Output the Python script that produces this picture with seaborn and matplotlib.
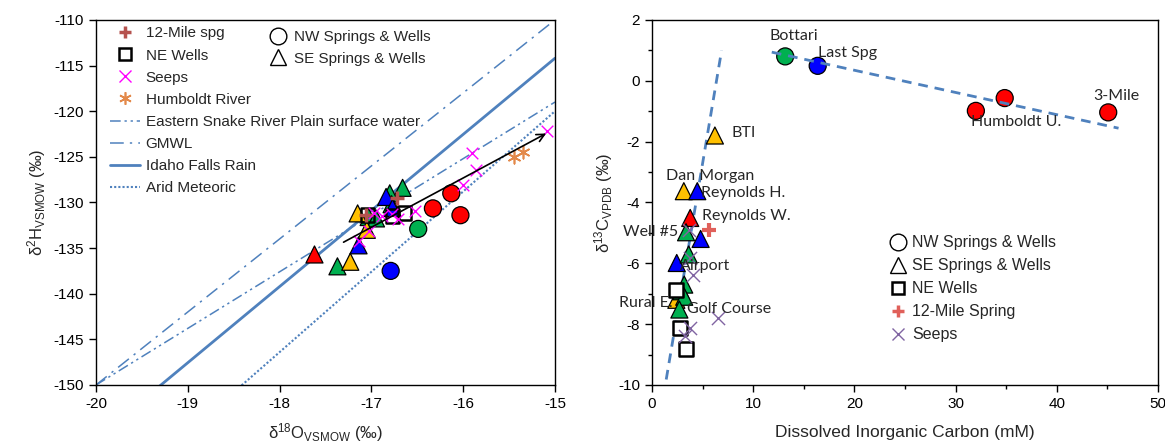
import numpy as np
import pandas as pd
import seaborn as sns
import matplotlib.pyplot as plt
from matplotlib.lines import Line2D

sns.set_theme(style="white")
plt.rcParams['font.family'] = ['Liberation Sans', 'DejaVu Sans']
plt.rcParams['mathtext.fontset'] = 'custom'
plt.rcParams['mathtext.rm'] = 'Liberation Sans'
plt.rcParams['mathtext.default'] = 'regular'
plt.rcParams['axes.unicode_minus'] = False

# ---------------- colours ----------------
RED, GREEN, BLUE, GOLD = "#ff0000", "#00b050", "#0000ff", "#ffc000"
LINE_BLUE = "#4f81bd"

# ---------------- panel A: water isotopes ----------------
nw_color = [RED, RED, RED, GREEN, BLUE]
nw_d18o = [-16.33, -16.13, -16.03, -16.49, -16.79]
nw_d2h = [-130.65, -129.0, -131.4, -132.9, -137.5]

se_color = [RED, GREEN, GREEN, GREEN, GREEN, GREEN, GREEN, BLUE, BLUE, BLUE, GOLD, GOLD, GOLD]
se_d18o = [-17.62, -17.37, -16.66, -16.80, -16.78, -17.03, -16.95, -16.84, -16.77, -17.14, -17.15, -17.23, -17.05]
se_d2h = [-135.7, -137.0, -128.4, -129.0, -130.2, -131.6, -131.75, -129.4, -130.6, -134.7, -131.2, -136.5, -133.0]

ne_d18o = [-17.04, -16.77, -16.64]
ne_d2h = [-131.4, -131.5, -131.15]

mile12_d18o = [-16.72, -17.06]
mile12_d2h = [-129.55, -131.4]

seep_d18o = [-15.09, -15.90, -15.86, -16.0, -16.52, -16.71, -16.89, -16.97, -17.03, -17.14, -16.78]
seep_d2h = [-122.15, -124.6, -126.5, -128.1, -130.9, -131.8, -131.5, -131.2, -133.1, -134.2, -131.3]

humboldt_d18o = [-15.45, -15.35]
humboldt_d2h = [-125.0, -124.5]

# reference meteoric water lines: d2H = slope * d18O + intercept
mwl_names = ["Eastern Snake River Plain surface water", "GMWL", "Idaho Falls Rain", "Arid Meteoric"]
mwl_slope = [6.2, 8.0, 8.34, 8.8]
mwl_intercept = [-26.0, 10.0, 10.9, 12.0]
mwl_style = [(0, (7, 2.5, 1.5, 2.5, 1.5, 2.5)), (0, (9, 4, 1.5, 4)), '-', (0, (1, 1))]
mwl_width = [1.1, 1.1, 2.0, 1.5]

# evaporation trend arrow (start, end)
arrow_d18o = [-17.33, -15.07]
arrow_d2h = [-134.5, -122.3]

# ---------------- panel B: carbon ----------------
nwB_color = [GREEN, BLUE, RED, RED, RED]
nwB_dic = [13.16, 16.37, 32.0, 34.85, 45.08]
nwB_d13c = [0.80, 0.49, -0.99, -0.57, -1.04]

seB_color = [GOLD, GOLD, GOLD, BLUE, BLUE, BLUE, RED, GREEN, GREEN, GREEN, GREEN, GREEN, GREEN]
seB_dic = [6.21, 3.14, 2.4, 4.47, 4.80, 2.44, 3.77, 3.36, 3.62, 3.18, 2.88, 3.18, 2.70]
seB_d13c = [-1.8, -3.63, -7.2, -3.63, -5.2, -5.99, -4.51, -4.98, -5.71, -6.70, -6.92, -7.10, -7.52]

neB_dic = [2.33, 2.81, 3.40]
neB_d13c = [-6.89, -8.12, -8.81]

mile12B_dic = [5.65]
mile12B_d13c = [-4.89]

seepB_dic = [3.70, 3.75, 4.08, 3.75, 3.26, 6.49]
seepB_d13c = [-4.89, -5.83, -6.38, -8.14, -8.39, -7.81]

trend1_dic = [1.40, 6.87]
trend1_d13c = [-9.82, 0.99]
trend2_dic = [11.83, 46.1]
trend2_d13c = [0.94, -1.56]

site_names = ["Bottari", "Last Spg", "3-Mile", "Humboldt U.", "BTI", "Dan Morgan", "Reynolds H.",
              "Reynolds W.", "Well #5", "Airport", "Rural E.", "Golf Course"]
site_dic = [13.97, 19.3, 45.9, 35.95, 9.05, 5.73, 8.98, 9.28, -0.15, 5.28, -0.63, 7.58]
site_d13c = [1.47, 0.9, -0.5, -1.37, -1.72, -3.12, -3.69, -4.46, -4.98, -6.1, -7.3, -7.5]

# ---------------- figure ----------------
fig = plt.figure(figsize=(11.65, 4.42), dpi=100)
axA = fig.add_axes([0.0824, 0.129, 0.394, 0.826])
axB = fig.add_axes([0.5597, 0.129, 0.4343, 0.826])

# panel A lines
xs = np.array([-20.0, -15.0])
for name, m, b, ls, lw in zip(mwl_names, mwl_slope, mwl_intercept, mwl_style, mwl_width):
    sns.lineplot(x=xs, y=m * xs + b, ax=axA, color=LINE_BLUE, linestyle=ls, linewidth=lw, zorder=1)

axA.annotate("", xy=(arrow_d18o[1], arrow_d2h[1]), xytext=(arrow_d18o[0], arrow_d2h[0]),
             arrowprops=dict(arrowstyle="->", color="black", lw=1.2, mutation_scale=14), zorder=6)

big = 150
sns.scatterplot(x=se_d18o, y=se_d2h, ax=axA, marker='^', s=big, c=se_color, edgecolor='black', linewidth=0.9, zorder=3)
sns.scatterplot(x=nw_d18o, y=nw_d2h, ax=axA, marker='o', s=big, c=nw_color, edgecolor='black', linewidth=0.9, zorder=3)
sns.scatterplot(x=ne_d18o, y=ne_d2h, ax=axA, marker='s', s=95, facecolor='none', edgecolor='black', linewidth=1.8, zorder=4)
sns.scatterplot(x=mile12_d18o, y=mile12_d2h, ax=axA, marker='+', s=90, color="#b5524e", linewidth=2.5, zorder=4)
sns.scatterplot(x=seep_d18o, y=seep_d2h, ax=axA, marker='x', s=70, color="#ff00ff", linewidth=1.0, zorder=5)
sns.scatterplot(x=humboldt_d18o, y=humboldt_d2h, ax=axA, marker=(6, 2, 0), s=80, color="#e3894a", linewidth=1.2, zorder=5)

axA.set_xlim(-20, -15)
axA.set_ylim(-150, -110)
axA.set_xticks(np.arange(-20, -14, 1))
axA.set_yticks(np.arange(-150, -109, 5))
axA.set_xlabel(r"δ$^{18}$O$_{VSMOW}$ (‰)", fontsize=12, labelpad=7)
axA.set_ylabel(r"δ$^{2}$H$_{VSMOW}$ (‰)", fontsize=12, labelpad=4)

h_left = [
    Line2D([], [], marker='+', color="#b5524e", ls='none', markersize=9, mew=2.5),
    Line2D([], [], marker='s', mfc='none', mec='black', ls='none', markersize=9, mew=1.8),
    Line2D([], [], marker='x', color="#ff00ff", ls='none', markersize=8, mew=1.0),
    Line2D([], [], marker=(6, 2, 0), color="#e3894a", ls='none', markersize=9, mew=1.2),
]
for ls, lw in zip(mwl_style, mwl_width):
    h_left.append(Line2D([], [], color=LINE_BLUE, linestyle=ls, linewidth=lw))
labels_left = ["12-Mile spg", "NE Wells", "Seeps", "Humboldt River"] + mwl_names
legA1 = axA.legend(h_left, labels_left, loc='upper left', bbox_to_anchor=(0.03, 0.982), frameon=False,
                   fontsize=11, handlelength=2.0, handletextpad=0.35, labelspacing=0.53, borderpad=0,
                   borderaxespad=0)
axA.add_artist(legA1)
h_shape = [Line2D([], [], marker='o', mfc='none', mec='black', ls='none', markersize=12, mew=1.0),
           Line2D([], [], marker='^', mfc='none', mec='black', ls='none', markersize=12, mew=1.0)]
axA.legend(h_shape, ["NW Springs & Wells", "SE Springs & Wells"], loc='upper left',
           bbox_to_anchor=(0.377, 0.972), frameon=False, fontsize=11, handlelength=1.2,
           handletextpad=0.45, labelspacing=0.5, borderpad=0, borderaxespad=0)

# panel B
dash = (0, (3.5, 2.5))
sns.lineplot(x=trend1_dic, y=trend1_d13c, ax=axB, color=LINE_BLUE, linestyle=dash, linewidth=2.0, zorder=1)
sns.lineplot(x=trend2_dic, y=trend2_d13c, ax=axB, color=LINE_BLUE, linestyle=dash, linewidth=2.0, zorder=4)

sns.scatterplot(x=seB_dic, y=seB_d13c, ax=axB, marker='^', s=big, c=seB_color, edgecolor='black', linewidth=0.9, zorder=3)
sns.scatterplot(x=nwB_dic, y=nwB_d13c, ax=axB, marker='o', s=big, c=nwB_color, edgecolor='black', linewidth=0.9, zorder=3)
sns.scatterplot(x=neB_dic, y=neB_d13c, ax=axB, marker='s', s=95, facecolor='white', edgecolor='black', linewidth=1.8, zorder=4)
sns.scatterplot(x=mile12B_dic, y=mile12B_d13c, ax=axB, marker='+', s=110, color="#e0605a", linewidth=3.0, zorder=4)
sns.scatterplot(x=seepB_dic, y=seepB_d13c, ax=axB, marker='x', s=90, color="#8064a2", linewidth=1.0, zorder=5)

for name, xv, yv in zip(site_names, site_dic, site_d13c):
    axB.text(xv, yv, name, fontsize=11.5, family=['Lato', 'DejaVu Sans'], ha='center', va='center', zorder=6)

axB.set_xlim(0, 50)
axB.set_ylim(-10, 2)
axB.set_xticks(np.arange(0, 51, 10))
axB.set_xticks(np.arange(0, 51, 5), minor=True)
axB.set_yticks(np.arange(-10, 3, 2))
axB.set_yticks(np.arange(-10, 3, 1), minor=True)
axB.set_xlabel("Dissolved Inorganic Carbon (mM)", fontsize=12.5, labelpad=10)
axB.set_ylabel(r"δ$^{13}$C$_{VPDB}$ (‰)", fontsize=12, labelpad=2)

h_right = [Line2D([], [], marker='o', mfc='none', mec='black', ls='none', markersize=12, mew=1.0),
           Line2D([], [], marker='^', mfc='none', mec='black', ls='none', markersize=12, mew=1.0),
           Line2D([], [], marker='s', mfc='none', mec='black', ls='none', markersize=8, mew=1.8),
           Line2D([], [], marker='+', color="#e0605a", ls='none', markersize=9, mew=2.5),
           Line2D([], [], marker='x', color="#8064a2", ls='none', markersize=8, mew=1.0)]
axB.legend(h_right, ["NW Springs & Wells", "SE Springs & Wells", "NE Wells", "12-Mile Spring", "Seeps"],
           loc='upper left', bbox_to_anchor=(0.47, 0.41), frameon=False, fontsize=11.5, handlelength=1.0,
           handletextpad=0.4, labelspacing=0.5, borderpad=0, borderaxespad=0)

for ax in (axA, axB):
    for sp in ax.spines.values():
        sp.set_color('black')
        sp.set_linewidth(1.0)
    ax.tick_params(axis='both', which='both', direction='out', length=5, width=1, colors='black',
                   labelsize=11, bottom=True, left=True)
    ax.tick_params(axis='both', which='minor', length=3)
    ax.grid(False)
axA.tick_params(axis='x', pad=4)
axB.tick_params(axis='x', pad=4)

fig.savefig("out.png", dpi=100)
